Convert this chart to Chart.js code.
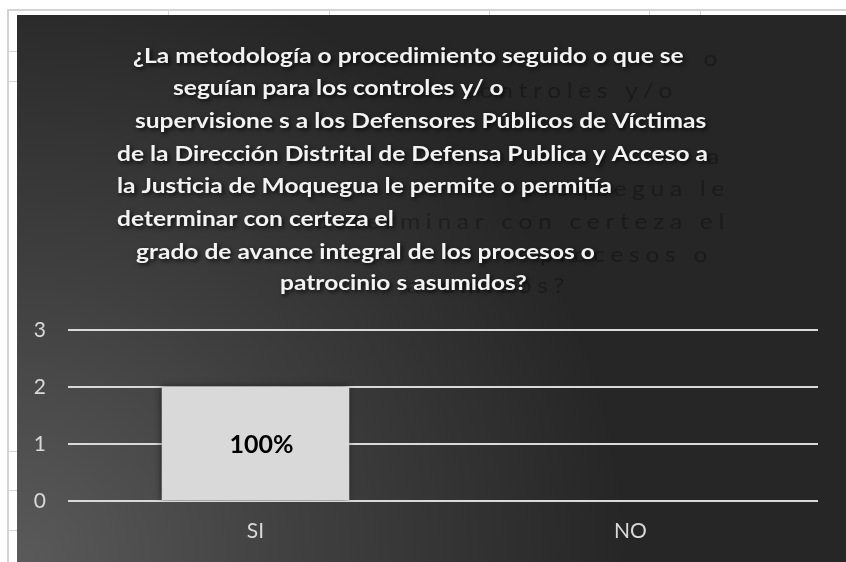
<!DOCTYPE html>
<html>
<head>
<meta charset="utf-8">
<script src="https://cdn.jsdelivr.net/npm/chart.js@4.4.1/dist/chart.umd.min.js"></script>
<style>
  html, body { margin: 0; padding: 0; background: #ffffff; width: 846px; height: 562px; overflow: hidden; }
  .gl { position: absolute; background: #d4d4d4; }
  #panel { position: absolute; left: 17px; top: 15px; width: 829px; height: 547px;
           background: radial-gradient(circle at 0% 100%, #5a5a5a 0px, #3f3f3f 290px, #262626 610px); }
  #c { display: block; }
</style>
</head>
<body>
<!-- spreadsheet cell lines behind the chart -->
<div class="gl" style="left:7px;top:9px;width:839px;height:2px"></div>
<div class="gl" style="left:7px;top:9px;width:2px;height:553px"></div>
<div class="gl" style="left:168px;top:9px;width:1px;height:6px"></div>
<div class="gl" style="left:329px;top:9px;width:1px;height:6px"></div>
<div class="gl" style="left:489px;top:9px;width:1px;height:6px"></div>
<div class="gl" style="left:649px;top:9px;width:1px;height:6px"></div>
<div class="gl" style="left:700px;top:9px;width:1px;height:6px"></div>
<div class="gl" style="left:7px;top:51px;width:10px;height:1px"></div>
<div class="gl" style="left:7px;top:81px;width:10px;height:1px"></div>
<div class="gl" style="left:7px;top:451px;width:10px;height:1px"></div>
<div class="gl" style="left:7px;top:490px;width:10px;height:1px"></div>
<div class="gl" style="left:7px;top:530px;width:10px;height:1px"></div>
<div id="panel"><canvas id="c" width="829" height="547"></canvas></div>
<script>
// ---- data ----
const categories = ['SI', 'NO'];
const values = [2, 0];
const valueLabels = ['100%', ''];
const yMin = 0;
const yMax = 3;
const yStep = 1;
const titleLines = [
  '¿La metodología o procedimiento seguido o que se',
  'seguían para los controles y/ o',
  'supervisione s a los Defensores Públicos de Víctimas',
  'de la Dirección Distrital de Defensa Publica y Acceso a',
  'la Justicia de Moquegua le permite o permitía',
  'determinar con certeza el',
  'grado de avance integral de los procesos o',
  'patrocinio s asumidos?'
];
const ghostLines = ['o', 'controles y/o', '', 'a', 'Moquegua le', 'determinar con certeza el', 'procesos o', 'asumidos?'];

// ---- layout (page coords, panel offset subtracted below) ----
const PX = 17, PY = 15;
const titleX = [133, 173, 135, 117, 117, 117, 136, 280];
const titleBase = [63, 95, 128, 161, 193, 226, 259, 290];
const ghostEndX = [723, 678, 0, 725, 730, 730, 713, 570];

const titlePlugin = {
  id: 'customTitle',
  beforeDraw(chart) {
    const ctx = chart.ctx;
    ctx.save();
    const fs = 21.5;
    ctx.font = 'bold ' + fs + 'px Lato';
    const w = ctx.measureText(titleLines[3]).width;
    const sx = 591 / w;
    // ghost layer
    ctx.save();
    ctx.scale(sx, 1);
    ctx.font = fs + 'px Lato';
    ctx.textAlign = 'right';
    ctx.textBaseline = 'alphabetic';
    ctx.fillStyle = 'rgba(0,0,0,0.30)';
    try { ctx.letterSpacing = '5px'; } catch (e) {}
    ghostLines.forEach((t, i) => {
      if (!t) return;
      ctx.fillText(t, (ghostEndX[i] - PX) / sx, titleBase[i] + 3 - PY);
    });
    try { ctx.letterSpacing = '0px'; } catch (e) {}
    ctx.restore();
    // main title
    ctx.save();
    ctx.scale(sx, 1);
    ctx.font = 'bold ' + fs + 'px Lato';
    ctx.textAlign = 'left';
    ctx.fillStyle = '#f2f2f2';
    ctx.shadowColor = 'rgba(0,0,0,0.8)';
    ctx.shadowBlur = 4;
    ctx.shadowOffsetX = 2;
    ctx.shadowOffsetY = 2;
    titleLines.forEach((t, i) => ctx.fillText(t, (titleX[i] - PX) / sx, titleBase[i] - PY));
    ctx.restore();
    ctx.restore();
  }
};

const barShadow = {
  id: 'barShadow',
  beforeDatasetsDraw(chart) {
    const ctx = chart.ctx;
    ctx.save();
    ctx.shadowColor = 'rgba(0,0,0,0.55)';
    ctx.shadowBlur = 7;
    ctx.shadowOffsetX = -1;
    ctx.shadowOffsetY = 0;
  },
  afterDatasetsDraw(chart) {
    const ctx = chart.ctx;
    ctx.restore();
    const meta = chart.getDatasetMeta(0);
    ctx.save();
    ctx.font = 'bold 25px Lato';
    ctx.fillStyle = '#000000';
    ctx.textAlign = 'center';
    ctx.textBaseline = 'middle';
    meta.data.forEach((el, i) => {
      if (!valueLabels[i]) return;
      const yc = (el.y + el.base) / 2;
      ctx.fillText(valueLabels[i], el.x + 6, yc + 1);
    });
    ctx.restore();
  }
};

function build() {
  new Chart(document.getElementById('c'), {
    type: 'bar',
    data: {
      labels: categories,
      datasets: [{
        data: values,
        backgroundColor: '#d9d9d9',
        borderWidth: 0,
        barPercentage: 0.5,
        categoryPercentage: 1.0
      }]
    },
    options: {
      responsive: false,
      animation: false,
      devicePixelRatio: 1,
      layout: { padding: { top: 315, right: 28, left: 0, bottom: 0 } },
      plugins: { legend: { display: false }, title: { display: false }, tooltip: { enabled: false } },
      scales: {
        x: {
          grid: { display: false, drawTicks: false },
          border: { display: false },
          ticks: { color: '#d9d9d9', font: { family: 'Lato', size: 21 }, padding: 18 },
          afterFit(s) { s.height = 61; }
        },
        y: {
          min: yMin, max: yMax,
          grid: { color: '#d9d9d9', lineWidth: 2, drawTicks: false },
          border: { display: false },
          ticks: { stepSize: yStep, color: '#d9d9d9', font: { family: 'Lato', size: 21 }, padding: 22 },
          afterFit(s) { s.width = 51; }
        }
      }
    },
    plugins: [titlePlugin, barShadow]
  });
}
if (document.fonts && document.fonts.load) {
  Promise.all([document.fonts.load('bold 20px Lato'), document.fonts.load('20px Lato')]).then(build, build);
} else { build(); }
</script>
</body>
</html>
